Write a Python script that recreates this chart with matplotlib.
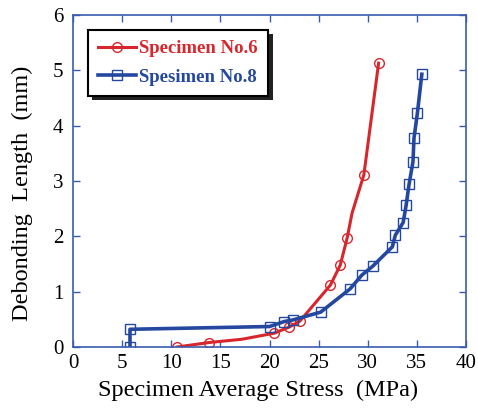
import matplotlib.pyplot as plt
from matplotlib.patches import Rectangle

# Specimen No.6 (red, circles); vertices without marker are line kinks
x6 = [10.6, 13.8, 17.2, 20.5, 22.0, 23.1, 26.2, 27.2, 27.9, 28.4, 29.6, 31.1]
y6 = [0.0, 0.08, 0.14, 0.25, 0.36, 0.47, 1.12, 1.48, 1.97, 2.42, 3.11, 5.13]
mark6 = [0, 1, 3, 4, 5, 6, 7, 8, 10, 11]

# Spesimen No.8 (blue, squares)
x8 = [5.8, 5.8, 20.0, 21.5, 22.4, 25.2, 28.2, 29.4, 30.5, 32.5, 32.8, 33.6,
      33.9, 34.2, 34.6, 34.7, 35.05, 35.5]
y8 = [0.0, 0.32, 0.37, 0.46, 0.49, 0.63, 1.05, 1.30, 1.46, 1.81, 2.02, 2.25,
      2.56, 2.94, 3.35, 3.77, 4.23, 4.93]

red = '#d7262c'
blue = '#2448a0'
spine = '#3a5cb0'

plt.rcParams['font.family'] = ['Liberation Serif', 'DejaVu Serif']

fig = plt.figure(figsize=(4.78, 4.09), dpi=100)
ax = fig.add_axes([0.1527, 0.1516, 0.8223, 0.8117])

l6, = ax.plot(x6, y6, color=red, lw=2.2, marker='o', markevery=mark6,
              ms=7, mfc='none', mec=red, mew=1.0, label='Specimen No.6')
l8, = ax.plot(x8, y8, color=blue, lw=2.6, marker='s', ms=7,
              mfc='none', mec=blue, mew=1.0, label='Spesimen No.8')

ax.set_xlim(0, 40)
ax.set_ylim(0, 6)
ax.set_xticks(range(0, 41, 5))
ax.set_yticks(range(0, 7))
ax.tick_params(direction='in', top=True, right=True, length=5, width=1,
               color=spine, labelsize=15)
ax.tick_params(axis='x', pad=5)
ax.tick_params(axis='y', pad=7)
for s in ax.spines.values():
    s.set_color(spine)
    s.set_linewidth(1.2)

ax.set_xlabel('Specimen Average Stress  (MPa)', fontsize=17.5)
ax.set_ylabel('Debonding  Length  (mm)', fontsize=17.5)
ax.xaxis.set_label_coords(0.47, -0.10)
ax.yaxis.set_label_coords(-0.102, 0.462)

leg = ax.legend(loc='upper left', bbox_to_anchor=(0.038, 0.955),
                frameon=True, fancybox=False, shadow=False, framealpha=1,
                prop={'weight': 'bold', 'size': 13.5}, handlelength=2.0,
                handletextpad=0.2, borderpad=0.55, labelspacing=0.6,
                edgecolor='black', borderaxespad=0)
leg.get_frame().set_linewidth(1.5)
leg.set_zorder(5)
for t, c in zip(leg.get_texts(), [red, blue]):
    t.set_color(c)

# drop shadow behind legend box
fig.canvas.draw()
bb = leg.get_frame().get_window_extent().transformed(fig.transFigure.inverted())
sh = Rectangle((bb.x0 + 0.009, bb.y0 - 0.010), bb.width, bb.height,
               transform=fig.transFigure, facecolor='#222222',
               edgecolor='none', zorder=4)
ax.add_artist(sh)
sh.set_clip_on(False)

fig.savefig('out.png', dpi=100)
